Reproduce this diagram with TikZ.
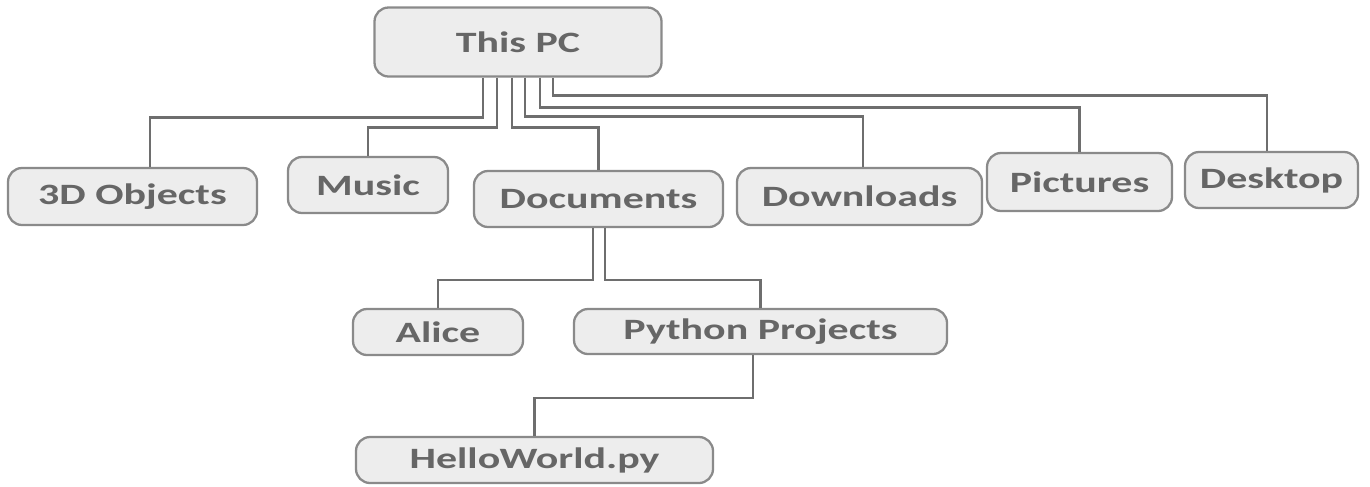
\documentclass[tikz,border=0pt]{standalone}
\usepackage{fontspec}
\newfontfamily\treefont[FakeStretch=1.42]{Carlito}
\usepackage{tikz}
\usetikzlibrary{positioning, calc}
\usepackage{xcolor}
\definecolor{boxfill}{HTML}{EDEDED}
\definecolor{boxline}{HTML}{8A8A8A}
\definecolor{labeltext}{HTML}{666666}
\definecolor{linkgray}{HTML}{6E6E6E}
\tikzset{
  folder/.style={
    rectangle, rounded corners=8pt, draw=boxline, line width=1.3pt,
    fill=boxfill, inner sep=0pt,
    align=center, text=labeltext,
    font=\treefont\fontsize{16.8}{20}\selectfont\bfseries
  },
  link/.style={draw=linkgray, line width=1.5pt}
}

\begin{document}
\begin{tikzpicture}

\useasboundingbox (0,0) rectangle (27.4,-9.72);

% Root
\node[folder, minimum width=5.74cm, minimum height=1.38cm] (pc) at (10.36,-0.84) {This PC};

% First level
\node[folder, minimum width=4.98cm, minimum height=1.14cm] (obj3d) at (2.65,-3.93) {3D Objects};
\node[folder, minimum width=3.2cm, minimum height=1.12cm] (music) at (7.36,-3.70) {Music};
\node[folder, minimum width=4.98cm, minimum height=1.12cm] (docs) at (11.97,-3.98) {Documents};
\node[folder, minimum width=4.9cm, minimum height=1.14cm] (downloads) at (17.19,-3.93) {Downloads};
\node[folder, minimum width=3.7cm, minimum height=1.16cm] (pictures) at (21.59,-3.64) {Pictures};
\node[folder, minimum width=3.46cm, minimum height=1.12cm] (desktop) at (25.43,-3.60) {Desktop};

% Inside Documents
\node[folder, minimum width=3.4cm, minimum height=0.92cm] (alice) at (8.76,-6.64) {Alice};
\node[folder, minimum width=7.46cm, minimum height=0.9cm] (python) at (15.21,-6.63) {Python Projects};
\node[folder, minimum width=7.14cm, minimum height=0.92cm] (hello) at (10.69,-9.20) {HelloWorld.py};

% Connectors
\draw[link] ([xshift=-0.7cm]pc.south) -- ++(0,-0.8) -| ([xshift=0.35cm]obj3d.north);
\draw[link] ([xshift=-0.42cm]pc.south) -- ++(0,-1.0) -| (music.north);
\draw[link] ([xshift=-0.12cm]pc.south) -- ++(0,-1.0) -| (docs.north);
\draw[link] ([xshift=0.14cm]pc.south) -- ++(0,-0.78) -| ([xshift=0.07cm]downloads.north);
\draw[link] ([xshift=0.44cm]pc.south) -- ++(0,-0.6) -| (pictures.north);
\draw[link] ([xshift=0.7cm]pc.south) -- ++(0,-0.36) -| ([xshift=-0.09cm]desktop.north);
\draw[link] ([xshift=-0.11cm]docs.south) -- ++(0,-1.04) -| (alice.north);
\draw[link] ([xshift=0.13cm]docs.south) -- ++(0,-1.04) -| (python.north);
\draw[link] ([xshift=-0.15cm]python.south) -- ++(0,-0.86) -| (hello.north);

\end{tikzpicture}
\end{document}
